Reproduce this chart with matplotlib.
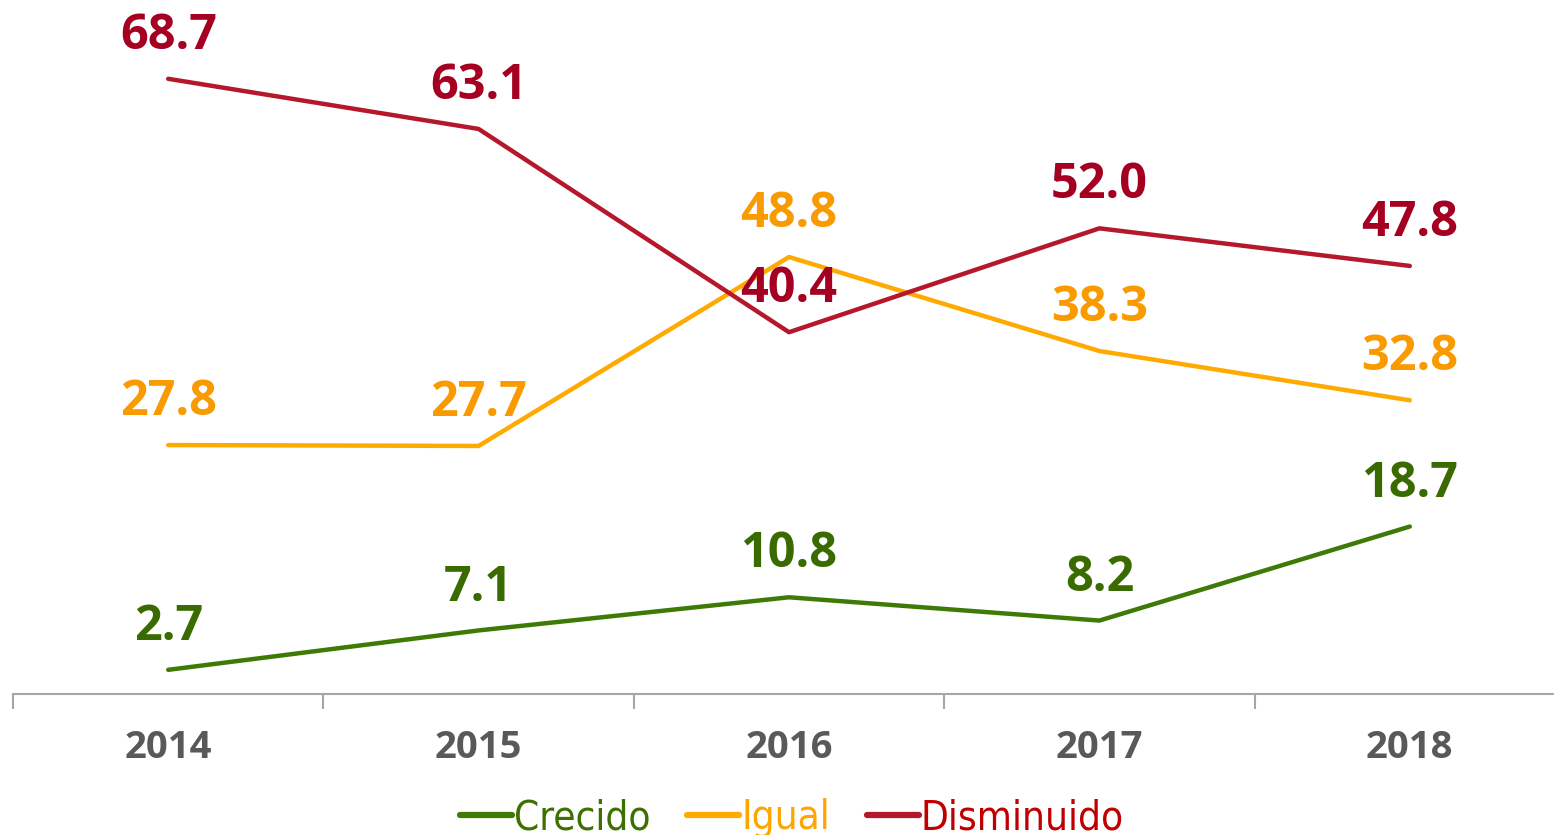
import matplotlib.pyplot as plt
from matplotlib.lines import Line2D

# Data ------------------------------
years = ["2014", "2015", "2016", "2017", "2018"]
crecido = [2.7, 7.1, 10.8, 8.2, 18.7]
igual = [27.8, 27.7, 48.8, 38.3, 32.8]
disminuido = [68.7, 63.1, 40.4, 52.0, 47.8]

series = [
    ("Crecido", crecido, "#3F7A06", "#3A6B00", "#3D7000"),
    ("Igual", igual, "#FFAA00", "#F99B00", "#FFA500"),
    ("Disminuido", disminuido, "#B5182B", "#A50021", "#C00000"),
]

W, H = 1554, 835
fig = plt.figure(figsize=(W / 100, H / 100), dpi=100)
# axis from x=13 px, categories 310.4 px apart; y=0 at 694 px
left = 13 / W
width = 5 * 310.4 / W
bottom = (H - 694) / H
ax = fig.add_axes([left, bottom, width, 1 - bottom])
ax.set_xlim(-0.5, 4.5)
ax.set_ylim(0, 694 / 8.955)

x = list(range(len(years)))
handles = []
for name, vals, lc, tc, legc in series:
    ax.plot(x, vals, color=lc, lw=3.2, solid_capstyle="round", zorder=2)
    for xi, v in zip(x, vals):
        ax.annotate(f"{v:.1f}", (xi, v), xytext=(0, 21.5), textcoords="offset points",
                    ha="center", va="baseline", fontsize=35, fontweight="bold",
                    family=["Open Sans", "DejaVu Sans"], color=tc, zorder=3)
    handles.append(Line2D([], [], color=lc, lw=4.5, solid_capstyle="round"))

for s in ["top", "right", "left"]:
    ax.spines[s].set_visible(False)
ax.spines["bottom"].set_color("#A6A6A6")
ax.spines["bottom"].set_linewidth(1.5)
ax.set_yticks([])
ax.set_xticks(x)
ax.set_xticklabels(years, fontsize=27.5, fontweight="bold", color="#595959",
                   family=["Open Sans", "DejaVu Sans"])
ax.tick_params(axis="x", which="major", length=0, pad=25)
ax.set_xticks([i - 0.5 for i in range(6)], minor=True)
ax.tick_params(axis="x", which="minor", length=11, width=1.5, color="#A6A6A6")

leg = fig.legend(handles, [s[0] for s in series], loc="center",
                 bbox_to_anchor=(792 / W, 1 - 818 / H), ncol=3, frameon=False,
                 prop={"family": ["DejaVu Sans", "Liberation Sans"], "size": 29,
                       "stretch": "condensed", "weight": "medium"},
                 handlelength=1.3, handletextpad=0.05, columnspacing=0.9,
                 labelcolor=[s[4] for s in series])

fig.savefig("out.png", dpi=100)
